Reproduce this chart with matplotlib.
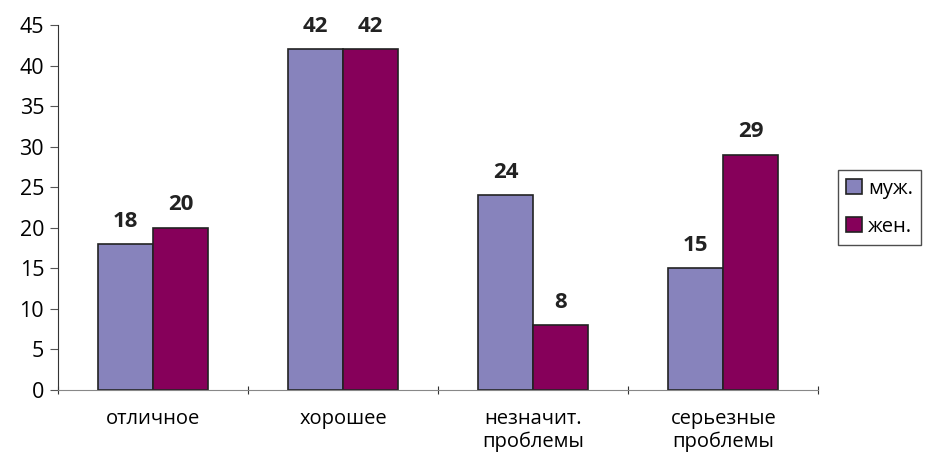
import numpy as np
import matplotlib
matplotlib.use("Agg")
import matplotlib.pyplot as plt

categories = ["отличное", "хорошее", "незначит.\nпроблемы", "серьезные\nпроблемы"]
men = [18, 42, 24, 15]
women = [20, 42, 8, 29]
series_names = ["муж.", "жен."]

plt.rcParams['font.family'] = ['Open Sans', 'DejaVu Sans']

fig = plt.figure(figsize=(9.3, 4.57), dpi=100)
ax = fig.add_axes([0.0624, 0.1466, 0.8176, 0.7984])

x = np.arange(len(categories)) + 0.5
w = 0.29
b1 = ax.bar(x - w / 2, men, w, color="#8783BC", edgecolor="#222222", linewidth=1.2, label=series_names[0])
b2 = ax.bar(x + w / 2, women, w, color="#86005A", edgecolor="#222222", linewidth=1.2, label=series_names[1])

for bars in (b1, b2):
    for rect in bars:
        h = rect.get_height()
        ax.annotate(f"{h:.0f}", (rect.get_x() + rect.get_width() / 2, h),
                    xytext=(0, 9), textcoords="offset points",
                    ha="center", va="bottom", fontsize=16, fontweight="bold",
                    color="#222222", annotation_clip=False)

ax.set_xlim(0, len(categories))
ax.set_ylim(0, 45)
ax.set_yticks(range(0, 46, 5))
ax.tick_params(axis="y", labelsize=15.5, length=6, direction="out", color="#555555", pad=4)

ax.set_xticks(np.arange(len(categories) + 1))
ax.set_xticklabels([])
ax.set_xticks(x, minor=True)
ax.set_xticklabels(categories, minor=True, fontsize=14.5, linespacing=1.15)
ax.tick_params(axis="x", which="major", length=6, direction="inout", color="#333333")
ax.tick_params(axis="x", which="minor", length=0, pad=14)

for s in ("top", "right"):
    ax.spines[s].set_visible(False)
ax.spines["left"].set_color("#333333")
ax.spines["bottom"].set_color("#888888")

leg = ax.legend(loc="center left", bbox_to_anchor=(1.012, 0.5), borderaxespad=0.5, fontsize=14.5,
                frameon=True, fancybox=False, edgecolor="#222222", handlelength=0.8,
                handleheight=0.8, handletextpad=0.3, borderpad=0.4, labelspacing=0.9)
leg.get_frame().set_linewidth(1.0)

fig.savefig("out.png", dpi=100)
